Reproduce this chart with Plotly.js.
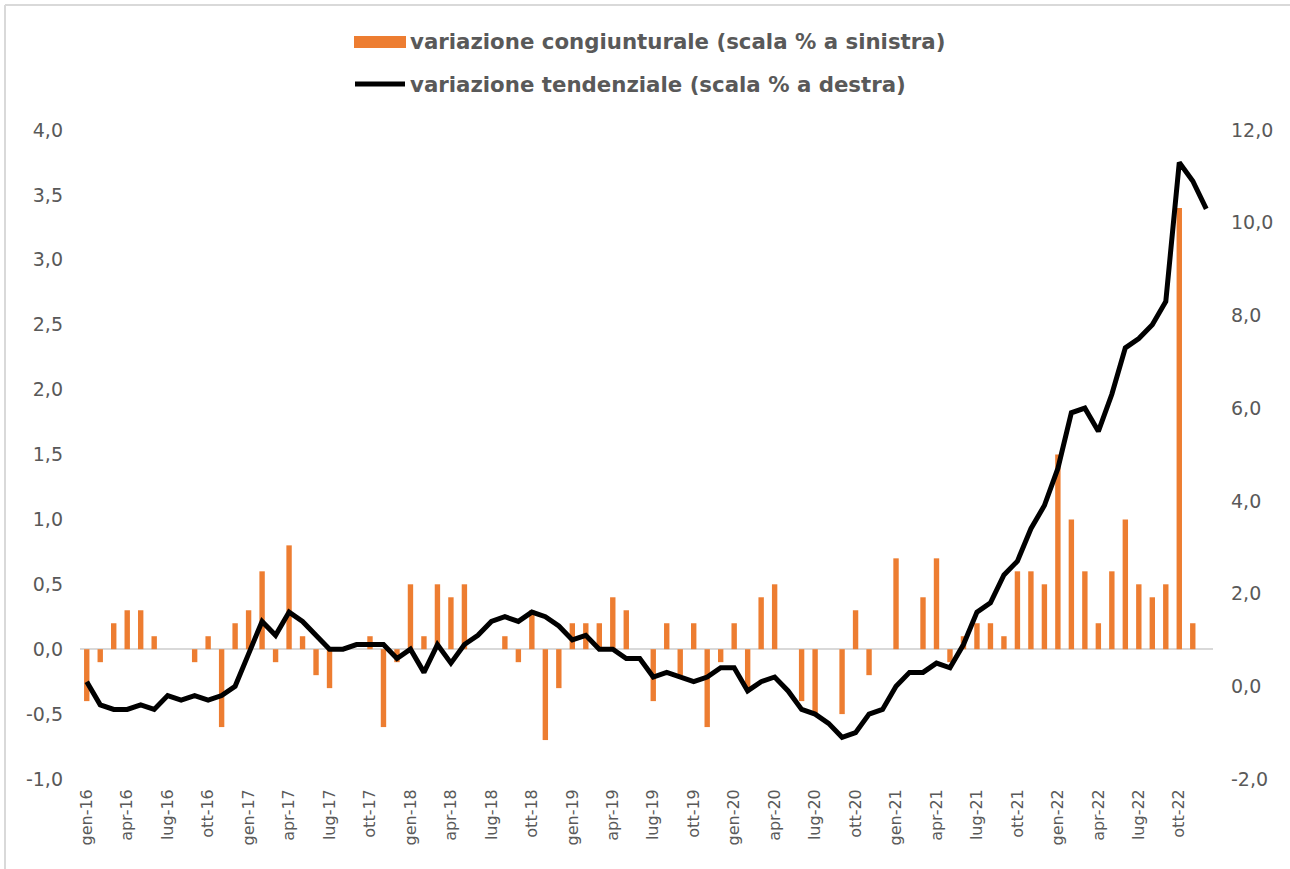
<!DOCTYPE html>
<html>
<head>
<meta charset="utf-8">
<script src="https://cdn.plot.ly/plotly-3.0.1.min.js"></script>
<style>html,body{margin:0;padding:0;background:#fff;}#chart{width:1290px;height:869px;}</style>
</head>
<body>
<div id="chart"></div>
<script>
// ---- data ----
const monthNames = ['gen','feb','mar','apr','mag','giu','lug','ago','set','ott','nov','dic'];
const years = ['16','17','18','19','20','21','22'];

const congiunturale = [
  -0.4, -0.1, 0.2, 0.3, 0.3, 0.1, 0.0, 0.0, -0.1, 0.1, -0.6, 0.2,
  0.3, 0.6, -0.1, 0.8, 0.1, -0.2, -0.3, 0.0, 0.0, 0.1, -0.6, -0.1,
  0.5, 0.1, 0.5, 0.4, 0.5, 0.0, 0.0, 0.1, -0.1, 0.3, -0.7, -0.3,
  0.2, 0.2, 0.2, 0.4, 0.3, 0.0, -0.4, 0.2, -0.2, 0.2, -0.6, -0.1,
  0.2, -0.3, 0.4, 0.5, 0.0, -0.4, -0.5, 0.0, -0.5, 0.3, -0.2, 0.0,
  0.7, 0.0, 0.4, 0.7, -0.1, 0.1, 0.2, 0.2, 0.1, 0.6, 0.6, 0.5,
  1.5, 1.0, 0.6, 0.2, 0.6, 1.0, 0.5, 0.4, 0.5, 3.4, 0.2, null
];

const tendenziale = [
  0.1, -0.4, -0.5, -0.5, -0.4, -0.5, -0.2, -0.3, -0.2, -0.3, -0.2, 0.0,
  0.7, 1.4, 1.1, 1.6, 1.4, 1.1, 0.8, 0.8, 0.9, 0.9, 0.9, 0.6,
  0.8, 0.3, 0.9, 0.5, 0.9, 1.1, 1.4, 1.5, 1.4, 1.6, 1.5, 1.3,
  1.0, 1.1, 0.8, 0.8, 0.6, 0.6, 0.2, 0.3, 0.2, 0.1, 0.2, 0.4,
  0.4, -0.1, 0.1, 0.2, -0.1, -0.5, -0.6, -0.8, -1.1, -1.0, -0.6, -0.5,
  0.0, 0.3, 0.3, 0.5, 0.4, 0.9, 1.6, 1.8, 2.4, 2.7, 3.4, 3.9,
  4.7, 5.9, 6.0, 5.5, 6.3, 7.3, 7.5, 7.8, 8.3, 11.3, 10.9, 10.3
];

const legendLabels = [
  'variazione congiunturale (scala % a sinistra)',
  'variazione tendenziale (scala % a destra)'
];

// left axis ticks
const yLeftVals = [-1, -0.5, 0, 0.5, 1, 1.5, 2, 2.5, 3, 3.5, 4];
const yLeftText = ['-1,0', '-0,5', '0,0', '0,5', '1,0', '1,5', '2,0', '2,5', '3,0', '3,5', '4,0'];
// right axis ticks
const yRightVals = [-2, 0, 2, 4, 6, 8, 10, 12];
const yRightText = ['-2,0', '0,0', '2,0', '4,0', '6,0', '8,0', '10,0', '12,0'];

// ---- categories & ticks ----
const categories = [];
years.forEach(y => monthNames.forEach(m => categories.push(m + '-' + y)));
const tickVals = categories.filter((c, i) => i % 3 === 0);

const grey = '#595959';
const orange = '#ED7D31';
const font = 'DejaVu Sans, Verdana, sans-serif';

const traces = [
  {
    type: 'bar', x: categories, y: congiunturale, name: legendLabels[0],
    marker: {color: orange}, yaxis: 'y', hoverinfo: 'x+y'
  },
  {
    type: 'scatter', mode: 'lines', x: categories, y: tendenziale, name: legendLabels[1],
    line: {color: '#000000', width: 5, shape: 'linear'}, yaxis: 'y2'
  }
];

// plot area in px: x 80..1213, y 130..779
const L = 80, R = 1213, T = 130, B = 779;
const px = x => (x - L) / (R - L);
const py = y => (B - y) / (B - T);

const layout = {
  width: 1290, height: 869,
  margin: {l: L, r: 1290 - R, t: T, b: 869 - B, pad: 0},
  paper_bgcolor: '#ffffff', plot_bgcolor: '#ffffff',
  separators: ',.',
  showlegend: false,
  bargap: 0.6,
  font: {family: font, color: grey},
  xaxis: {
    type: 'category', categoryorder: 'array', categoryarray: categories,
    range: [-0.5, categories.length - 0.5],
    tickmode: 'array', tickvals: tickVals, ticktext: tickVals,
    tickangle: -90, tickfont: {size: 16, color: grey, family: font},
    showgrid: false, showline: false, zeroline: false, ticks: '',
    ticklabelstandoff: 6, automargin: false
  },
  yaxis: {
    range: [-1, 4], tickmode: 'array', tickvals: yLeftVals, ticktext: yLeftText,
    tickfont: {size: 19, color: grey, family: font},
    showgrid: false, showline: false, ticks: '',
    zeroline: true, zerolinecolor: '#d9d9d9', zerolinewidth: 2,
    ticklabelstandoff: 16, automargin: false
  },
  yaxis2: {
    overlaying: 'y', side: 'right',
    range: [-2, 12], tickmode: 'array', tickvals: yRightVals, ticktext: yRightText,
    tickfont: {size: 19, color: grey, family: font},
    showgrid: false, showline: false, ticks: '', zeroline: false,
    ticklabelstandoff: 17, automargin: false
  },
  shapes: [
    // chart border (top and left)
    {type: 'line', xref: 'paper', yref: 'paper', x0: px(5), x1: px(1300), y0: py(5), y1: py(5),
     line: {color: '#d9d9d9', width: 2}},
    {type: 'line', xref: 'paper', yref: 'paper', x0: px(5), x1: px(5), y0: py(5), y1: py(880),
     line: {color: '#d9d9d9', width: 2}},
    // legend symbols
    {type: 'rect', xref: 'paper', yref: 'paper', x0: px(354), x1: px(406), y0: py(48), y1: py(36),
     fillcolor: orange, line: {width: 0}},
    {type: 'line', xref: 'paper', yref: 'paper', x0: px(355), x1: px(405), y0: py(84), y1: py(84),
     line: {color: '#000000', width: 5}}
  ],
  annotations: [
    {xref: 'paper', yref: 'paper', x: px(408), y: py(42), xanchor: 'left', yanchor: 'middle',
     text: '<b>' + legendLabels[0] + '</b>', showarrow: false,
     font: {family: font, size: 21.3, color: grey}},
    {xref: 'paper', yref: 'paper', x: px(408), y: py(84), xanchor: 'left', yanchor: 'middle',
     text: '<b>' + legendLabels[1] + '</b>', showarrow: false,
     font: {family: font, size: 21.3, color: grey}}
  ]
};

Plotly.newPlot('chart', traces, layout, {displayModeBar: false, staticPlot: true});
</script>
</body>
</html>
